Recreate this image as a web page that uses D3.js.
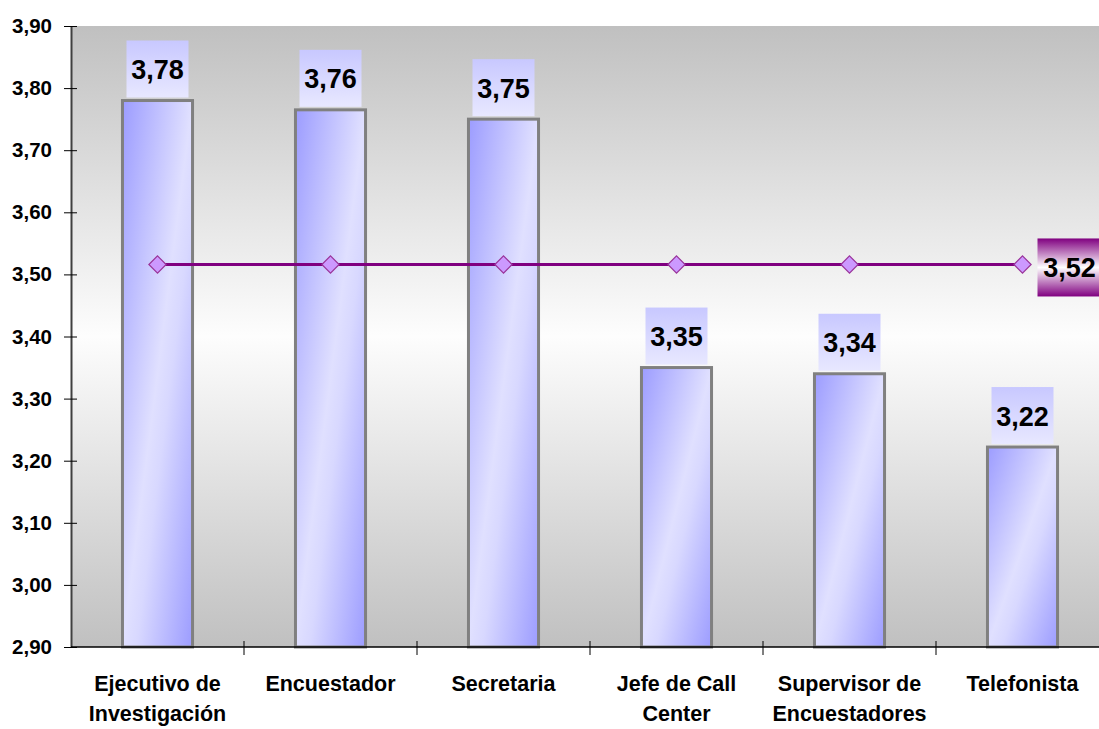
<!DOCTYPE html>
<html><head><meta charset="utf-8">
<script src="https://cdn.jsdelivr.net/npm/d3@7"></script>
<style>body{margin:0;background:#fff}svg{display:block}text{font-family:Arial,"Liberation Sans",sans-serif;font-weight:bold}</style>
</head><body><svg id="c" width="1099" height="729"></svg>
<script>
const categories = [["Ejecutivo de","Investigación"],["Encuestador"],["Secretaria"],["Jefe de Call","Center"],["Supervisor de","Encuestadores"],["Telefonista"]];
const values = [3.78, 3.765, 3.75, 3.35, 3.34, 3.222];
const labels = ["3,78","3,76","3,75","3,35","3,34","3,22"];
const average = 3.516;
const averageLabel = "3,52";
const yTicks = [2.9,3.0,3.1,3.2,3.3,3.4,3.5,3.6,3.7,3.8,3.9];

const svg = d3.select("#c");
const W = 1099, H = 729;
const m = {l:71, t:26, b:647};
const x = d3.scaleBand().domain(d3.range(categories.length)).range([m.l, m.l + 6*173]).paddingInner(0.595).paddingOuter(0.2975);
const y = d3.scaleLinear().domain([2.9, 3.9]).range([m.b, m.t]);

const defs = svg.append("defs");
const bg = defs.append("linearGradient").attr("id","bg").attr("x1",0).attr("y1",0).attr("x2",0).attr("y2",1);
[[0,"#c0c0c0"],[0.5,"#fdfdfd"],[1,"#c0c0c0"]].forEach(s=>bg.append("stop").attr("offset",s[0]).attr("stop-color",s[1]));
const bar = defs.append("linearGradient").attr("id","bar").attr("x1",0).attr("y1",0).attr("x2",1).attr("y2",1);
[[0,"#9c9cff"],[0.5,"#e0e0ff"],[0.6,"#d8d8ff"],[1,"#9c9cff"]].forEach(s=>bar.append("stop").attr("offset",s[0]).attr("stop-color",s[1]));
const lb = defs.append("linearGradient").attr("id","lb").attr("x1",0).attr("y1",0).attr("x2",0).attr("y2",1);
[[0,"#c8c8ff"],[1,"#e8e8ff"]].forEach(s=>lb.append("stop").attr("offset",s[0]).attr("stop-color",s[1]));
const pb = defs.append("linearGradient").attr("id","pb").attr("x1",0).attr("y1",0).attr("x2",0).attr("y2",1);
[[0,"#800080"],[0.5,"#ffffff"],[1,"#800080"]].forEach(s=>pb.append("stop").attr("offset",s[0]).attr("stop-color",s[1]));

svg.append("rect").attr("x",m.l).attr("y",m.t).attr("width",W-m.l).attr("height",m.b-m.t).attr("fill","url(#bg)");

// bars
svg.selectAll(".bar").data(values).join("rect")
  .attr("x",(d,i)=>x(i)).attr("y",d=>y(d)).attr("width",x.bandwidth()).attr("height",d=>y(2.9)-y(d))
  .attr("fill","url(#bar)").attr("stroke","#808080").attr("stroke-width",3);

// value labels
const lw = 62, lh = 57;
svg.selectAll(".lbox").data(values).join("rect")
  .attr("x",(d,i)=>x(i)+x.bandwidth()/2-lw/2).attr("y",d=>y(d)-3-lh).attr("width",lw).attr("height",lh).attr("fill","url(#lb)");
svg.selectAll(".ltxt").data(values).join("text")
  .attr("x",(d,i)=>x(i)+x.bandwidth()/2).attr("y",d=>y(d)-3-lh/2+10).attr("text-anchor","middle")
  .attr("font-size",27).text((d,i)=>labels[i]);

// axes
const ya = svg.append("g").attr("transform",`translate(${m.l},0)`)
  .call(d3.axisLeft(y).tickValues(yTicks).tickSize(7).tickSizeOuter(0).tickFormat(d=>d.toFixed(2).replace(".",",")));
ya.select(".domain").attr("stroke","#404040").attr("stroke-width",2);
ya.selectAll(".tick line").attr("stroke","#000").attr("x2",-7).attr("x1",6);
ya.selectAll(".tick text").attr("font-size",20.5).attr("x",-19).attr("fill","#000").attr("font-family","Arial, Liberation Sans, sans-serif").attr("font-weight","bold");

svg.append("line").attr("x1",m.l).attr("x2",W).attr("y1",m.b).attr("y2",m.b).attr("stroke","#000").attr("stroke-width",1.5);
const bounds = d3.range(1,categories.length).map(i=>x(i)-x.step()*x.paddingInner()/2);
svg.selectAll(".ct").data(bounds).join("line").attr("x1",d=>d).attr("x2",d=>d).attr("y1",m.b-6).attr("y2",m.b+8).attr("stroke","#000").attr("stroke-width",1);

// category labels
svg.selectAll(".cl").data(categories).join("text")
  .attr("x",(d,i)=>x(i)+x.bandwidth()/2).attr("y",691).attr("text-anchor","middle").attr("font-size",21.5)
  .each(function(d){ d3.select(this).selectAll("tspan").data(d).join("tspan").attr("x",d3.select(this).attr("x")).attr("dy",(t,j)=>j?30:0).text(t=>t); });

// average line
const pts = categories.map((c,i)=>[x(i)+x.bandwidth()/2, y(average)]);
svg.append("path").attr("d",d3.line()(pts)).attr("stroke","#800080").attr("stroke-width",3).attr("fill","none");
svg.selectAll(".dm").data(pts).join("path").attr("transform",d=>`translate(${d[0]},${d[1]})`)
  .attr("d",d3.symbol(d3.symbolDiamond2,190)()).attr("fill","#cc99ff").attr("stroke","#993399").attr("stroke-width",1.2);

const last = pts[pts.length-1];
svg.append("rect").attr("x",last[0]+15).attr("y",last[1]-26).attr("width",64).attr("height",58).attr("fill","url(#pb)");
svg.append("text").attr("x",last[0]+47).attr("y",last[1]+13).attr("text-anchor","middle").attr("font-size",27).text(averageLabel);
</script></body></html>
